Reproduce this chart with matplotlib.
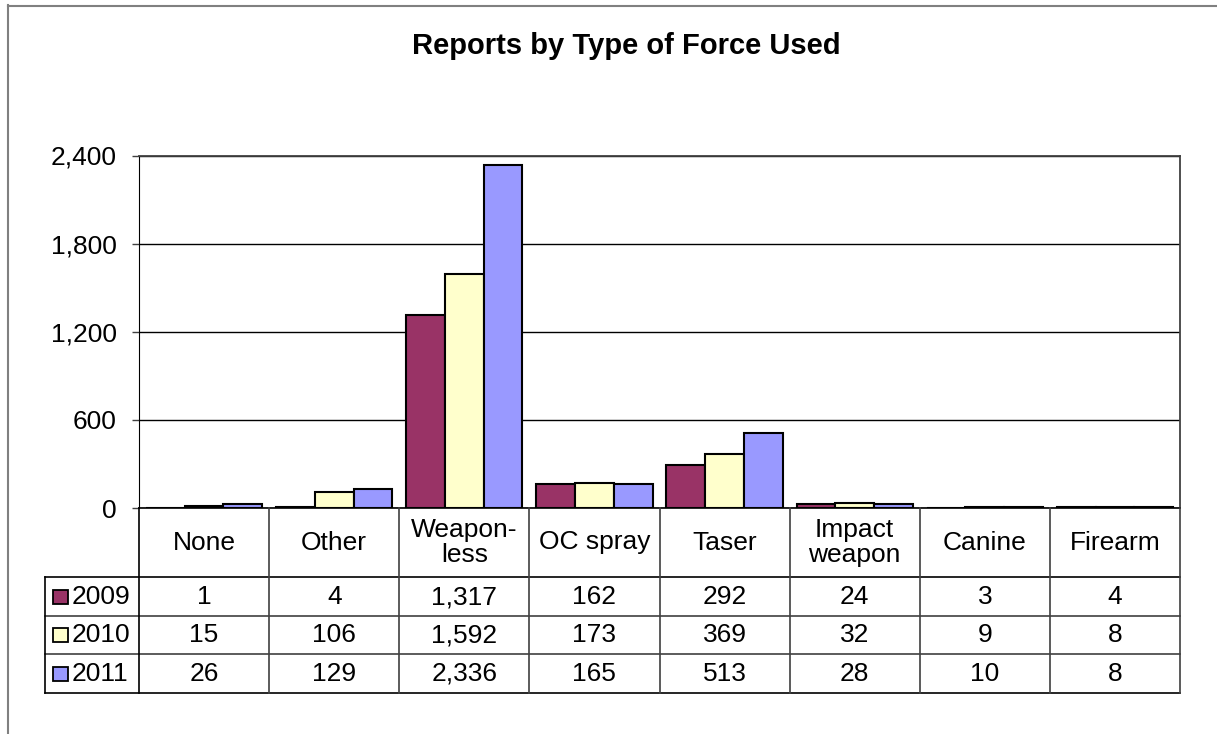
import numpy as np
import matplotlib.pyplot as plt
from matplotlib.patches import Rectangle
from matplotlib.ticker import FuncFormatter

categories = ['None', 'Other', 'Weapon-\nless', 'OC spray', 'Taser', 'Impact\nweapon', 'Canine', 'Firearm']
years = ['2009', '2010', '2011']
v2009 = [1, 4, 1317, 162, 292, 24, 3, 4]
v2010 = [15, 106, 1592, 173, 369, 32, 9, 8]
v2011 = [26, 129, 2336, 165, 513, 28, 10, 8]
colors = ['#993366', '#FFFFCC', '#9999FF']
series = [v2009, v2010, v2011]

plt.rcParams['font.family'] = ['Liberation Sans', 'DejaVu Sans']
FS = 19

W, H = 1217, 734
fig = plt.figure(figsize=(W / 100, H / 100), dpi=100)

def box(l, t, r, b):
    return [l / W, 1 - b / H, (r - l) / W, (b - t) / H]

# outer chart frame (only left and top visible)
fig.add_artist(plt.Line2D([7.5 / W, 7.5 / W], [0, 1 - 5 / H], color='#808080', lw=1.5))
fig.add_artist(plt.Line2D([7.5 / W, 1], [1 - 5.5 / H, 1 - 5.5 / H], color='#808080', lw=1.5))

fig.text(626 / W, 1 - 46 / H, 'Reports by Type of Force Used', ha='center', va='center',
         fontsize=21, fontweight='bold')

# bars
ax = fig.add_axes(box(139, 155.5, 1180, 508))
x = np.arange(len(categories))
bw = 0.298
for i, (vals, c) in enumerate(zip(series, colors)):
    ax.bar(x + (i - 1) * bw, vals, bw, color=c, edgecolor='black', linewidth=1.5, zorder=3)

ax.set_xlim(-0.5, len(categories) - 0.5)
ax.set_ylim(0, 2400)
ax.set_yticks([0, 600, 1200, 1800, 2400])
ax.yaxis.set_major_formatter(FuncFormatter(lambda v, p: f'{int(v):,}'))
ax.tick_params(axis='y', length=5, width=1, color='#404040', pad=11, labelsize=FS)
ax.set_xticks([])
ax.grid(axis='y', color='black', lw=1, zorder=0)
ax.set_axisbelow(True)
for s in ['top', 'right']:
    ax.spines[s].set_color('#404040')
    ax.spines[s].set_linewidth(1.3)
ax.spines['left'].set_color('black')
ax.spines['bottom'].set_color('black')
ax.spines['bottom'].set_linewidth(1.2)

# data table
left_px, right_px = 45, 1180
cat_px = (1180 - 139) / len(categories)
x0 = -0.5 - (139 - left_px) / cat_px
tb = fig.add_axes(box(left_px, 508, right_px, 694))
tb.set_xlim(x0, len(categories) - 0.5)
tb.set_ylim(694, 508)
tb.axis('off')

rows_y = [577, 616, 654, 693]
line_c = '#404040'
# horizontal lines
for k, yy in enumerate(rows_y):
    tb.plot([x0, len(categories) - 0.5], [yy, yy], color='black' if k in (0, 3) else line_c,
            lw=1.2, clip_on=False)
# vertical lines
tb.plot([x0, x0], [577, 693], color='black', lw=1.2, clip_on=False)
for b in np.arange(-0.5, len(categories), 1.0):
    tb.plot([b, b], [508, 693], color='black' if b in (-0.5,) else line_c, lw=1.2, clip_on=False)

for j, cat in enumerate(categories):
    tb.text(j, 542.5, cat, ha='center', va='center', fontsize=FS, linespacing=1.1)

for r, (yr, vals, c) in enumerate(zip(years, series, colors)):
    yc = (rows_y[r] + rows_y[r + 1]) / 2
    kx = x0 + 8 / cat_px
    tb.add_patch(Rectangle((kx, yc - 7), 15 / cat_px, 14, facecolor=c, edgecolor='black',
                           lw=1.3, clip_on=False))
    tb.text(x0 + 27 / cat_px, yc + 0.5, yr, ha='left', va='center', fontsize=FS)
    for j, v in enumerate(vals):
        tb.text(j, yc + 0.5, f'{v:,}', ha='center', va='center', fontsize=FS)

fig.savefig('out.png', dpi=100)
